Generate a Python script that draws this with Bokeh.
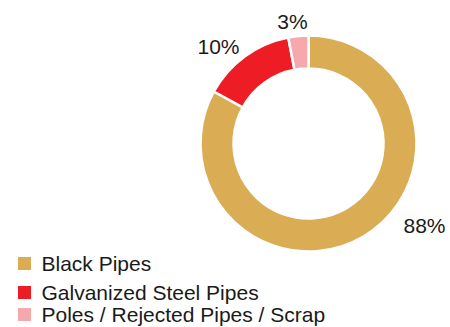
import numpy as np
from bokeh.plotting import figure
from bokeh.models import Range1d, ColumnDataSource
from bokeh.core.properties import value
from bokeh.embed import file_html
from bokeh.resources import INLINE

# ---- data ----
categories = ["Black Pipes", "Galvanized Steel Pipes", "Poles / Rejected Pipes / Scrap"]
shares = [83, 14, 3]                      # slice sizes as drawn
share_labels = ["88%", "10%", "3%"]       # labels as printed
colors = ["#DAAD55", "#EE1D25", "#F5A9AC"]

# ---- layout ----
W, H = 450, 327
cx, cy = 308, H - 143
r_out, r_in = 108, 75
label_xy = [(424, 225), (218, 46), (292, 21)]   # pixel positions (top-left origin)
legend_x = 24
legend_y = [263, 292, 314]
FONT = "Liberation Sans"

p = figure(width=W, height=H, output_backend="svg", toolbar_location=None,
           x_range=Range1d(0, W), y_range=Range1d(0, H),
           x_axis_location=None, y_axis_location=None, min_border=0)
p.grid.visible = False
p.outline_line_color = None
p.background_fill_color = "white"
p.border_fill_color = "white"

frac = np.array(shares, dtype=float) / np.sum(shares)
cum = np.concatenate([[0], np.cumsum(frac)])
start = np.pi / 2 - 2 * np.pi * cum[:-1]
end = np.pi / 2 - 2 * np.pi * cum[1:]

src = ColumnDataSource(dict(start=start, end=end, color=colors))
p.annular_wedge(x=cx, y=cy, inner_radius=r_in, outer_radius=r_out,
                start_angle="start", end_angle="end", direction="clock",
                fill_color="color", line_color="white", line_width=2.5, source=src)

p.text(x=[xy[0] for xy in label_xy], y=[H - xy[1] for xy in label_xy], text=share_labels,
       text_font=value(FONT), text_font_size="21px", text_color="#1a1a1a",
       text_align="center", text_baseline="middle")

p.rect(x=[legend_x] * 3, y=[H - y for y in legend_y], width=13, height=13,
       fill_color=colors, line_color=None)
p.text(x=[legend_x + 17] * 3, y=[H - y for y in legend_y], text=categories,
       text_font=value(FONT), text_font_size="21px", text_color="#1a1a1a",
       text_align="left", text_baseline="middle")

open("out.html", "w").write(file_html(p, INLINE))
